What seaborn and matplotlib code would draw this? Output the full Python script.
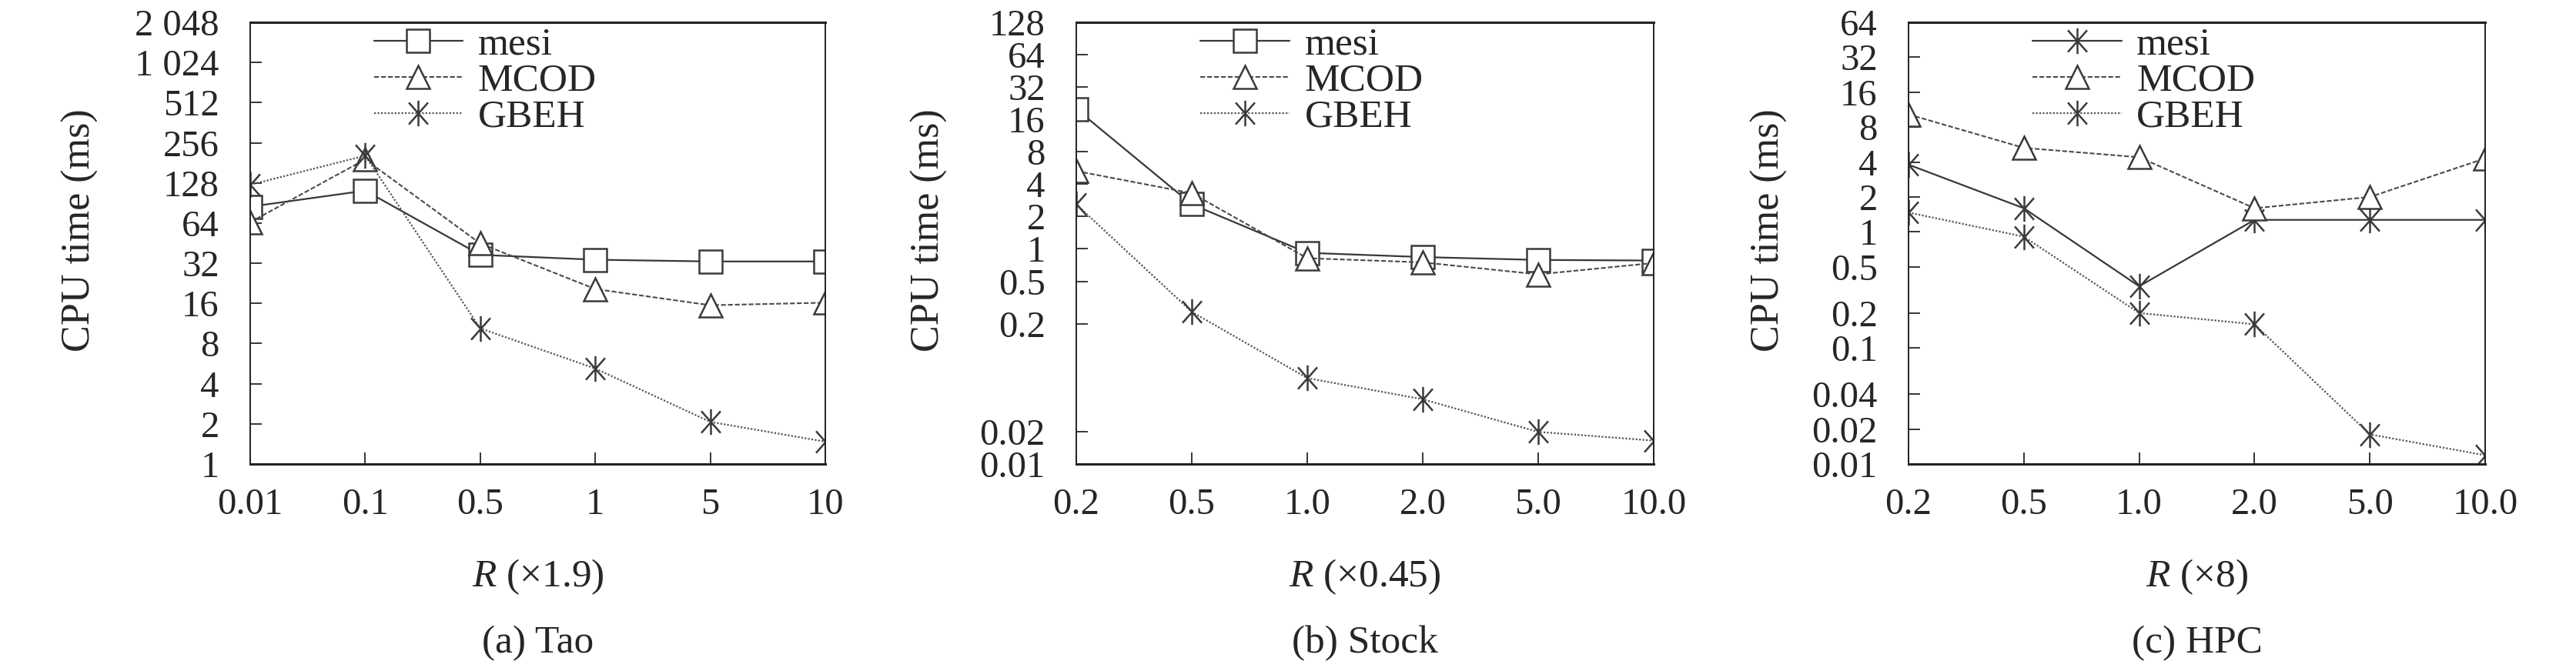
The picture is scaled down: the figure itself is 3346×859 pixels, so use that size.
import matplotlib
matplotlib.use('Agg')
import matplotlib.pyplot as plt
from matplotlib.path import Path
from matplotlib.ticker import NullLocator
import seaborn as sns

# valores (CPU time em ms)
x_tao = ['0.01', '0.1', '0.5', '1', '5', '10']
x_r = ['0.2', '0.5', '1.0', '2.0', '5.0', '10.0']

tao_mesi = [85, 112, 37, 34, 33, 33]
tao_mcod = [65, 192, 45, 20.5, 15.5, 16.2]
tao_gbeh = [124, 205, 10.4, 5.2, 2.07, 1.47]

stock_mesi = [20, 2.6, 0.92, 0.84, 0.79, 0.78]
stock_mcod = [5.3, 3.3, 0.82, 0.75, 0.58, 0.74]
stock_gbeh = [2.6, 0.26, 0.063, 0.040, 0.0199, 0.0165]

hpc_mesi = [3.8, 1.6, 0.34, 1.27, 1.27, 1.27]
hpc_mcod = [10.3, 5.3, 4.4, 1.6, 2.0, 4.3]
hpc_gbeh = [1.47, 0.91, 0.20, 0.16, 0.018, 0.0119]

yt_tao = [2048, 1024, 512, 256, 128, 64, 32, 16, 8, 4, 2, 1]
yl_tao = ['2 048', '1 024', '512', '256', '128', '64', '32', '16', '8', '4', '2', '1']
yt_stock = [128, 64, 32, 16, 8, 4, 2, 1, 0.5, 0.2, 0.02, 0.01]
yl_stock = ['128', '64', '32', '16', '8', '4', '2', '1', '0.5', '0.2', '0.02', '0.01']
yt_hpc = [64, 32, 16, 8, 4, 2, 1, 0.5, 0.2, 0.1, 0.04, 0.02, 0.01]
yl_hpc = ['64', '32', '16', '8', '4', '2', '1', '0.5', '0.2', '0.1', '0.04', '0.02', '0.01']

nomes = ['mesi', 'MCOD', 'GBEH']

sns.set_style('ticks')
plt.rcParams['font.family'] = ['Liberation Serif', 'DejaVu Serif']
plt.rcParams['mathtext.fontset'] = 'custom'
plt.rcParams['mathtext.rm'] = 'Liberation Serif'
plt.rcParams['mathtext.it'] = 'Liberation Serif:italic'

W, H = 3346, 859

# asterisco: traco vertical + X
estrela = Path([(0, -1), (0, 1), (-0.75, -0.85), (0.75, 0.85), (-0.75, 0.85), (0.75, -0.85)],
               [Path.MOVETO, Path.LINETO] * 3)

estilos = {
    'mesi': dict(linestyle='-', color='#383838', linewidth=1.6),
    'MCOD': dict(linestyle=(0, (3, 1.3)), color='#4a4a4a', linewidth=1.5),
    'GBEH': dict(linestyle=(0, (1, 1)), color='#555555', linewidth=1.6),
}


def painel(ax, xs, series, marcadores, yt, yl, ylim, xlabel, titulo, ylab_x):
    for nome, vals, mk in zip(nomes, series, marcadores):
        tam = 24 if mk is estrela else 21
        sns.lineplot(x=xs, y=vals, ax=ax, sort=False, errorbar=None,
                     marker=mk, markersize=tam, markerfacecolor='white',
                     markeredgecolor='#3a3a3a', markeredgewidth=1.8,
                     label=nome, **estilos[nome])
    ax.set_yscale('log')
    ax.set_ylim(*ylim)
    ax.set_xlim(0, len(xs) - 1)
    ax.set_yticks(yt)
    ax.set_yticklabels(yl)
    ax.yaxis.set_minor_locator(NullLocator())
    ax.tick_params(axis='y', direction='in', length=11, width=1.3,
                   labelsize=35, pad=29, right=False)
    ax.tick_params(axis='x', direction='in', length=11, width=1.3,
                   labelsize=35, pad=22, top=False)
    for lado in ['top', 'bottom']:
        ax.spines[lado].set_linewidth(2.2)
    for lado in ['left', 'right']:
        ax.spines[lado].set_linewidth(1.4)
    for s in ax.spines.values():
        s.set_color('#222222')
        s.set_visible(True)
    ax.set_ylabel('CPU time (ms)', fontsize=37.5)
    ax.yaxis.set_label_coords(ylab_x, 0.53)
    ax.set_xlabel('')
    ax.text(0.5, -0.256, xlabel, transform=ax.transAxes, fontsize=37,
            ha='center', va='center')
    ax.text(0.5, -0.405, titulo, transform=ax.transAxes, fontsize=37,
            ha='center', va='center')
    ax.legend(loc='upper left', bbox_to_anchor=(0.215, 0.99), frameon=False,
              fontsize=37, borderpad=0, borderaxespad=0, handlelength=2.25,
              handletextpad=0.38, labelspacing=0.0)


fig = plt.figure(figsize=(W / 100, H / 100), dpi=100)
top, bottom = 29, 603
caixas = [(325, 747), (1398, 750), (2479, 749)]
axs = [fig.add_axes([l / W, 1 - bottom / H, w / W, (bottom - top) / H]) for l, w in caixas]

painel(axs[0], x_tao, [tao_mesi, tao_mcod, tao_gbeh], ['s', '^', estrela],
       yt_tao, yl_tao, (1, 2048), r'$R$ (×1.9)', '(a) Tao', -0.264)
painel(axs[1], x_r, [stock_mesi, stock_mcod, stock_gbeh], ['s', '^', estrela],
       yt_stock, yl_stock, (0.01, 128), r'$R$ (×0.45)', '(b) Stock', -0.223)
painel(axs[2], x_r, [hpc_mesi, hpc_mcod, hpc_gbeh], [estrela, '^', estrela],
       yt_hpc, yl_hpc, (0.01, 64), r'$R$ (×8)', '(c) HPC', -0.210)

fig.savefig('out.png', dpi=100, facecolor='white')
